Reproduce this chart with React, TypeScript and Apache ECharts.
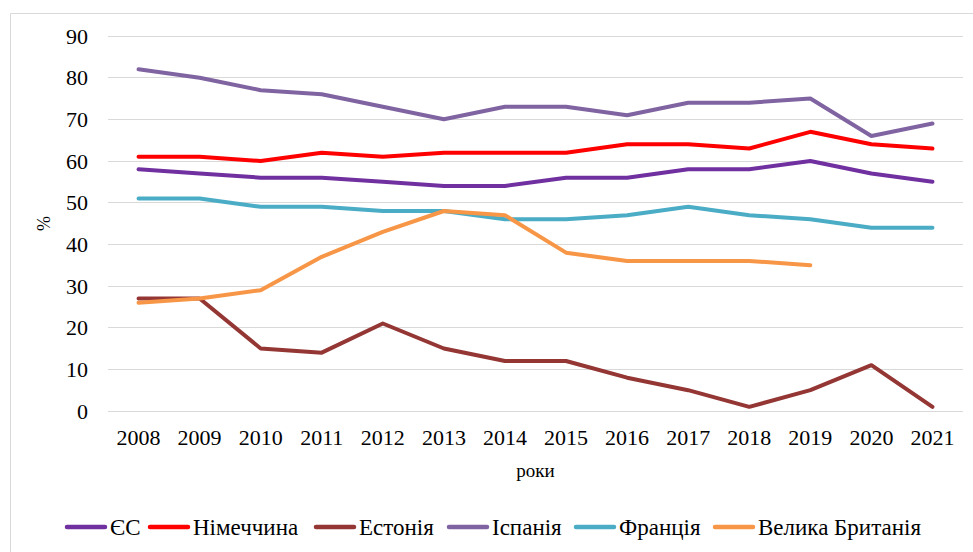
import React, { useEffect, useRef } from "react";
import * as echarts from "echarts";

const years = ["2008", "2009", "2010", "2011", "2012", "2013", "2014", "2015", "2016", "2017", "2018", "2019", "2020", "2021"];
const eu = [58, 57, 56, 56, 55, 54, 54, 56, 56, 58, 58, 60, 57, 55];
const germany = [61, 61, 60, 62, 61, 62, 62, 62, 64, 64, 63, 67, 64, 63];
const estonia = [27, 27, 15, 14, 21, 15, 12, 12, 8, 5, 1, 5, 11, 1];
const spain = [82, 80, 77, 76, 73, 70, 73, 73, 71, 74, 74, 75, 66, 69];
const france = [51, 51, 49, 49, 48, 48, 46, 46, 47, 49, 47, 46, 44, 44];
const uk = [26, 27, 29, 37, 43, 48, 47, 38, 36, 36, 36, 35, null, null];

const seriesNames = ["ЄС", "Німеччина", "Естонія", "Іспанія", "Франція", "Велика Британія"];
const seriesColors = ["#7030A0", "#FF0000", "#943634", "#8064A2", "#4BACC6", "#F79646"];
const seriesData = [eu, germany, estonia, spain, france, uk];

const FONT = "'Liberation Serif', 'DejaVu Serif', serif";
const LEGEND_FONT_SIZE = 23;
// legend layout (pixel positions of each item's line icon)
const legendIconX = [65, 148, 314, 447, 574, 713];

function buildLegend(): any[] {
  const els: any[] = [];
  const y = 527;
  seriesNames.forEach((name, i) => {
    const x = legendIconX[i];
    els.push({
      type: "line",
      shape: { x1: x + 2, y1: y, x2: x + 40, y2: y },
      style: { stroke: seriesColors[i], lineWidth: 4.5, lineCap: "round" },
    });
    els.push({
      type: "text",
      x: x + 45,
      y: y,
      style: {
        text: name,
        fontFamily: FONT,
        fontSize: LEGEND_FONT_SIZE,
        fill: "#000",
        verticalAlign: "middle",
        align: "left",
      },
    });
  });
  return els;
}

export default function App() {
  const ref = useRef<HTMLDivElement>(null);
  useEffect(() => {
    if (!ref.current) return;
    const chart = echarts.init(ref.current, null, { renderer: "svg" });
    chart.setOption({
      animation: false,
      backgroundColor: "#ffffff",
      textStyle: { fontFamily: FONT },
      graphic: [
        {
          type: "rect",
          shape: { x: 10.5, y: 13.5, width: 1000, height: 600 },
          style: { fill: "none", stroke: "#d9d9d9", lineWidth: 1 },
          z: -1,
        },
        ...buildLegend(),
      ],
      grid: { left: 108, right: 10, top: 36, bottom: 141 },
      legend: { show: false, data: seriesNames },
      xAxis: {
        type: "category",
        data: years,
        boundaryGap: true,
        axisLine: { show: false },
        axisTick: { show: false },
        axisLabel: { fontFamily: FONT, fontSize: 22, color: "#000", margin: 15 },
        name: "роки",
        nameLocation: "middle",
        nameGap: 50,
        nameTextStyle: { fontFamily: FONT, fontSize: 19, color: "#000" },
      },
      yAxis: {
        type: "value",
        min: 0,
        max: 90,
        interval: 10,
        axisLine: { show: false },
        axisTick: { show: false },
        splitLine: { lineStyle: { color: "#d9d9d9", width: 1 } },
        axisLabel: { fontFamily: FONT, fontSize: 22, color: "#000", margin: 20 },
        name: "%",
        nameLocation: "middle",
        nameRotate: 90,
        nameGap: 55,
        nameTextStyle: { fontFamily: FONT, fontSize: 18, color: "#000" },
      },
      series: seriesNames.map((name, i) => ({
        name,
        type: "line",
        data: seriesData[i],
        symbol: "none",
        color: seriesColors[i],
        lineStyle: { width: 4, color: seriesColors[i], cap: "round", join: "round" },
      })),
    });
    return () => chart.dispose();
  }, []);
  return <div ref={ref} style={{ position: "absolute", left: 0, top: 0, width: 973, height: 552 }} />;
}
